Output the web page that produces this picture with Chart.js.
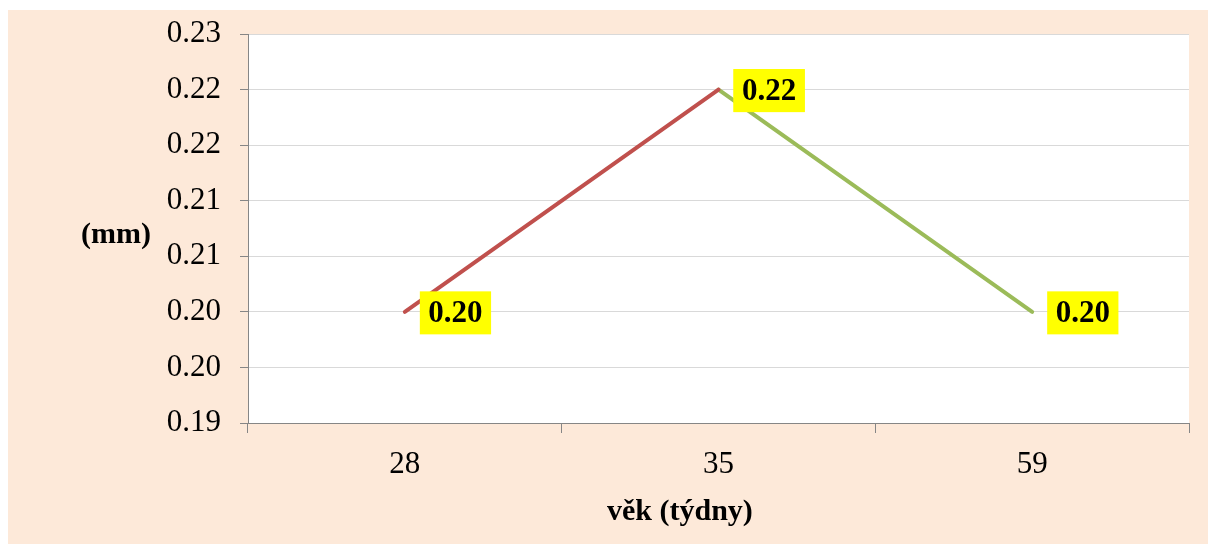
<!DOCTYPE html>
<html>
<head>
<meta charset="utf-8">
<script src="https://cdn.jsdelivr.net/npm/chart.js@4"></script>
<style>
  html, body { margin: 0; padding: 0; background: #ffffff; }
  #wrap { position: absolute; left: 8px; top: 10px; width: 1200px; height: 534px; background: #FDE9D9; }
  #c { display: block; width: 1200px; height: 534px; }
</style>
</head>
<body>
<div id="wrap"><canvas id="c" width="1200" height="534"></canvas></div>
<script>
// Age categories (weeks) and measured thickness (mm)
const weeks = ['28', '35', '59'];
const riseValues = [0.20, 0.22, null];   // 28 -> 35 weeks
const fallValues = [null, 0.22, 0.20];   // 35 -> 59 weeks
const yTickLabels = ['0.19', '0.20', '0.20', '0.21', '0.21', '0.22', '0.22', '0.23'];
const yAxisTitle = '(mm)';
const xAxisTitle = 'věk (týdny)';

const SERIF = '"Liberation Serif", "Times New Roman", serif';

// White plot area on top of the peach chart background
const plotBackground = {
  id: 'plotBackground',
  beforeDraw(chart) {
    const { ctx, chartArea: a } = chart;
    ctx.save();
    ctx.fillStyle = '#FFFFFF';
    ctx.fillRect(a.left, a.top, a.right - a.left, a.bottom - a.top);
    ctx.restore();
  }
};

// Yellow value boxes to the right of each point
const valueLabels = {
  id: 'valueLabels',
  afterDatasetsDraw(chart) {
    const ctx = chart.ctx;
    ctx.save();
    ctx.font = 'bold 31px ' + SERIF;
    ctx.textBaseline = 'middle';
    ctx.textAlign = 'left';
    chart.data.datasets.forEach((ds, di) => {
      const meta = chart.getDatasetMeta(di);
      ds.data.forEach((v, i) => {
        if (v === null || v === undefined) return;
        const pt = meta.data[i];
        const text = v.toFixed(2);
        const w = ctx.measureText(text).width;
        const bw = w + 17, bh = 43;
        const bx = pt.x + 15, by = pt.y + 1 - bh / 2;
        ctx.fillStyle = '#FFFF00';
        ctx.fillRect(bx, by, bw, bh);
        ctx.fillStyle = '#000000';
        ctx.fillText(text, bx + 8.5, by + bh / 2 + 1);
      });
    });
    ctx.restore();
  }
};

// Axis titles: horizontal "(mm)" left of the value axis, category title below
const axisTitles = {
  id: 'axisTitles',
  afterDraw(chart) {
    const { ctx, chartArea: a } = chart;
    ctx.save();
    ctx.fillStyle = '#000000';
    ctx.font = 'bold 30px ' + SERIF;
    ctx.textAlign = 'center';
    ctx.textBaseline = 'alphabetic';
    ctx.fillText(yAxisTitle, 108, (a.top + a.bottom) / 2 + 14);
    ctx.fillText(xAxisTitle, a.left + (a.right - a.left) * 0.459, 510);
    ctx.restore();
  }
};

new Chart(document.getElementById('c'), {
  type: 'line',
  data: {
    labels: weeks,
    datasets: [
      {
        data: riseValues,
        borderColor: '#C0504D',
        backgroundColor: '#C0504D',
        borderWidth: 4,
        borderCapStyle: 'round',
        pointRadius: 0,
        tension: 0,
        spanGaps: false
      },
      {
        data: fallValues,
        borderColor: '#9BBB59',
        backgroundColor: '#9BBB59',
        borderWidth: 4,
        borderCapStyle: 'round',
        pointRadius: 0,
        tension: 0,
        spanGaps: false
      }
    ]
  },
  options: {
    responsive: false,
    animation: false,
    layout: { padding: { top: 24, right: 19, left: 0, bottom: 0 } },
    plugins: {
      legend: { display: false },
      tooltip: { enabled: false },
      title: { display: false }
    },
    scales: {
      x: {
        offset: true,
        grid: {
          offset: true,
          drawOnChartArea: false,
          drawTicks: true,
          tickLength: 10,
          tickColor: '#868686'
        },
        border: { color: '#868686', width: 1 },
        ticks: {
          color: '#000000',
          padding: 13,
          maxRotation: 0,
          font: { family: SERIF, size: 31 }
        },
        afterFit(s) { s.height = 121; s.paddingLeft = 0; s.paddingRight = 0; }
      },
      y: {
        min: 0.19,
        max: 0.225,
        ticks: {
          stepSize: 0.005,
          padding: 19,
          color: '#000000',
          font: { family: SERIF, size: 31 },
          callback: (v, i) => yTickLabels[i]
        },
        grid: {
          color: '#D9D9D9',
          tickColor: '#868686',
          tickLength: 8,
          lineWidth: 1
        },
        border: { color: '#868686', width: 1 },
        afterFit(s) { s.width = 240; s.paddingTop = 0; s.paddingBottom = 0; }
      }
    }
  },
  plugins: [plotBackground, valueLabels, axisTitles]
});
</script>
</body>
</html>
